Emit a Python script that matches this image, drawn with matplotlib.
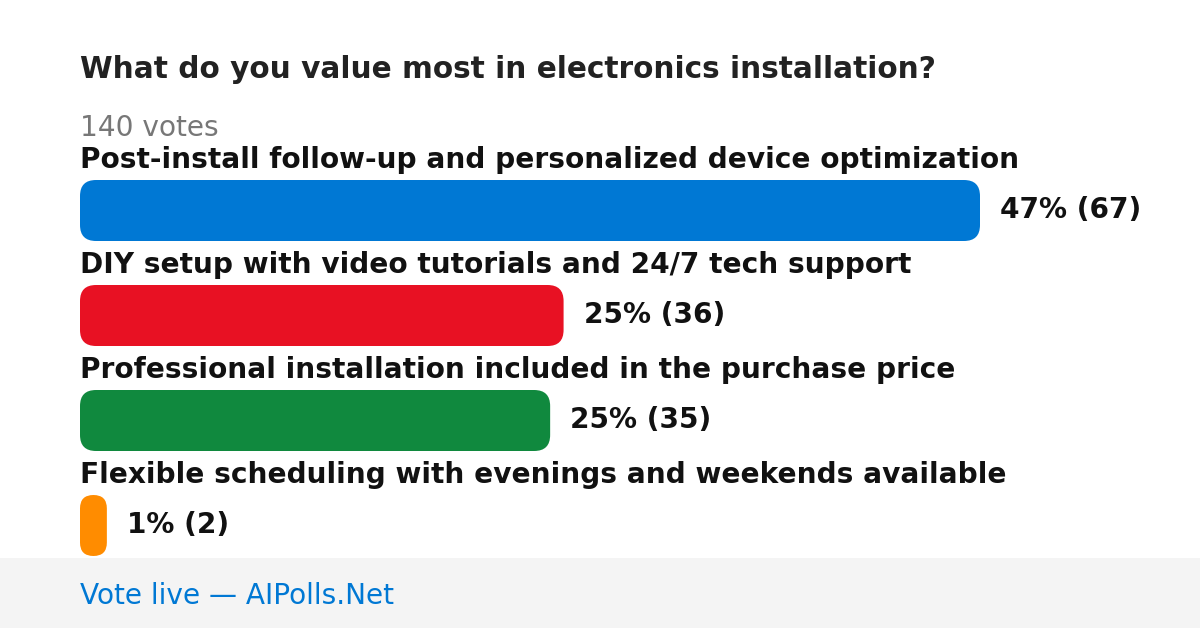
import os
import matplotlib
matplotlib.use("Agg")
import matplotlib.pyplot as plt
from matplotlib.patches import FancyBboxPatch, Rectangle
from matplotlib.font_manager import FontProperties

ttf = os.path.join(matplotlib.get_data_path(), "fonts", "ttf")
reg = os.path.join(ttf, "DejaVuSans.ttf")
bold = os.path.join(ttf, "DejaVuSans-Bold.ttf")

title = "What do you value most in electronics installation?"
options = ["Post-install follow-up and personalized device optimization",
           "DIY setup with video tutorials and 24/7 tech support",
           "Professional installation included in the purchase price",
           "Flexible scheduling with evenings and weekends available"]
votes = [67, 36, 35, 2]
colors = ["#0078d4", "#e81123", "#10893e", "#ff8c00"]
total = sum(votes)

FS = 20.16  # 28px at 100 dpi


def fp(path, size=FS):
    return FontProperties(fname=path, size=size)


fig = plt.figure(figsize=(12, 6.28), dpi=100)
ax = fig.add_axes([0, 0, 1, 1])
ax.set_xlim(0, 1200)
ax.set_ylim(628, 0)
ax.axis("off")

ax.text(80, 78, title, fontproperties=fp(bold, 21.3), color="#222222", va="baseline")
ax.text(80, 136, f"{total} votes", fontproperties=fp(reg), color="#777777", va="baseline")

full = 900  # px for the largest bar
for i, (lab, v, c) in enumerate(zip(options, votes, colors)):
    y0 = 168 + i * 105
    ax.text(80, y0, lab, fontproperties=fp(bold), color="#111111", va="baseline")
    w = v / max(votes) * full
    top = y0 + 12
    h = 61
    r = min(16, w / 2)
    ax.add_patch(FancyBboxPatch((80, top), w, h, boxstyle=f"round,pad=0,rounding_size={r}",
                                fc=c, ec="none"))
    pct = int(v * 100 / total)
    ax.text(80 + w + 20, top + h / 2 + 7.5, f"{pct}% ({v})", fontproperties=fp(bold),
            color="#111111", va="baseline")

ax.add_patch(Rectangle((0, 558), 1200, 70, fc="#f4f4f4", ec="none"))
ax.text(80, 604, "Vote live \u2014 AIPolls.Net", fontproperties=fp(reg),
        color="#0078d4", va="baseline")

fig.savefig("out.png", dpi=100)
